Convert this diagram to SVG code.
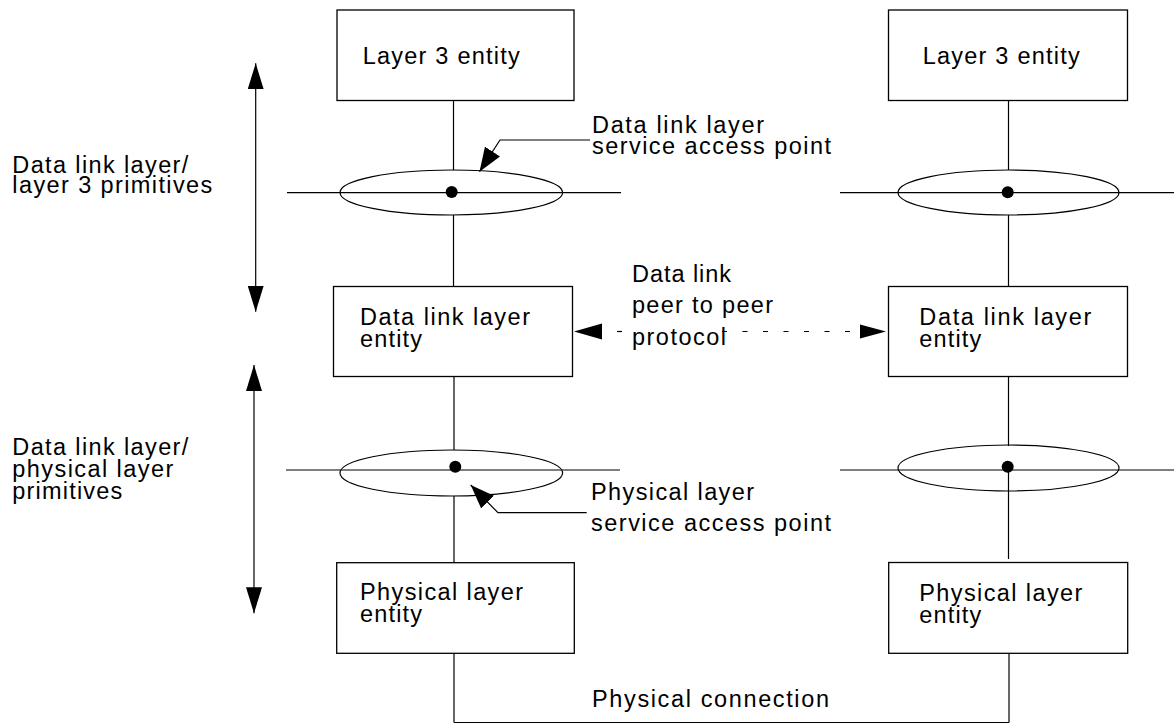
<svg xmlns="http://www.w3.org/2000/svg" width="1174" height="724" viewBox="0 0 1174 724">
<style>
.box{fill:#fff;stroke:#000;stroke-width:1.3}
.ln{fill:none;stroke:#000;stroke-width:1.2}
.ell{fill:none;stroke:#000;stroke-width:1.2}
.dash{fill:none;stroke:#000;stroke-width:1.2;stroke-dasharray:5 15.5}
text{font-family:"Liberation Sans",Arial,Helvetica,sans-serif;font-size:23.5px;fill:#000}
</style>
<defs>
<marker id="ah" viewBox="0 0 26 16" refX="26" refY="8" markerWidth="26" markerHeight="16" markerUnits="userSpaceOnUse" orient="auto-start-reverse">
<path d="M0,0 L26,8 L0,16 z" fill="#000"/>
</marker>
<marker id="ahs" viewBox="0 0 24 18" refX="24" refY="9" markerWidth="24" markerHeight="18" markerUnits="userSpaceOnUse" orient="auto">
<path d="M0,0 L24,9 L0,18 z" fill="#000"/>
</marker>
</defs>
<rect width="1174" height="724" fill="#fff"/>

<g id="connectors">
<line class="ln" x1="453.5" y1="100" x2="453.5" y2="170"/>
<line class="ln" x1="453.5" y1="215" x2="453.5" y2="287"/>
<line class="ln" x1="454" y1="377" x2="454" y2="450"/>
<line class="ln" x1="454" y1="496" x2="454" y2="563"/>
<line class="ln" x1="454" y1="653" x2="454" y2="722.5"/>
<line class="ln" x1="1008.5" y1="100" x2="1008.5" y2="170"/>
<line class="ln" x1="1008.5" y1="215" x2="1008.5" y2="286"/>
<line class="ln" x1="1008.5" y1="377" x2="1008.5" y2="446"/>
<line class="ln" x1="1008.5" y1="467" x2="1008.5" y2="559"/>
<line class="ln" x1="1009" y1="653" x2="1009" y2="722.5"/>
<line class="ln" x1="454" y1="722.5" x2="1009" y2="722.5"/>
<line class="ln" x1="287" y1="192.7" x2="621" y2="192.7"/>
<line class="ln" x1="840" y1="192.7" x2="1174" y2="192.7"/>
<line class="ln" x1="286" y1="470" x2="620" y2="470"/>
<line class="ln" x1="840" y1="470" x2="1174" y2="470"/>
<line class="ln" x1="255.7" y1="63.3" x2="255.7" y2="311.7" marker-start="url(#ah)" marker-end="url(#ah)"/>
<line class="ln" x1="254" y1="365" x2="254" y2="613.3" marker-start="url(#ah)" marker-end="url(#ah)"/>
<path d="M574,331.5 L602,323.5 L602,339.5 z" fill="#000"/>
<path d="M886,331.5 L860,324.5 L860,338.5 z" fill="#000"/>
<line class="dash" x1="602" y1="331.5" x2="632" y2="331.5" stroke-dashoffset="5.5"/>
<line class="dash" x1="720" y1="331.5" x2="860" y2="331.5" stroke-dashoffset="18.5"/>
<path class="ln" d="M590,140 H500 L479.5,171.7" marker-end="url(#ahs)"/>
<path class="ln" d="M586.7,512.7 H498 L470.7,485" marker-end="url(#ahs)"/>
</g>

<g id="sap-dl-left">
<ellipse class="ell" cx="451.3" cy="192.5" rx="111.3" ry="22.5"/>
<circle cx="451.7" cy="192" r="6"/>
</g>
<g id="sap-dl-right">
<ellipse class="ell" cx="1008.5" cy="192.5" rx="110.5" ry="22.5"/>
<circle cx="1007.7" cy="192.3" r="6"/>
</g>
<g id="sap-ph-left">
<ellipse class="ell" cx="451.3" cy="473" rx="111.3" ry="23"/>
<circle cx="455.3" cy="466.7" r="6"/>
</g>
<g id="sap-ph-right">
<ellipse class="ell" cx="1008.5" cy="468" rx="110.5" ry="23"/>
<circle cx="1007.7" cy="466.7" r="6"/>
</g>

<g id="l3-left">
<rect class="box" x="337" y="10" width="237" height="90.5"/>
<text x="362.7" y="64" textLength="157" lengthAdjust="spacing">Layer 3 entity</text>
</g>
<g id="l3-right">
<rect class="box" x="888.5" y="10" width="239" height="90.5"/>
<text x="922.7" y="64" textLength="157" lengthAdjust="spacing">Layer 3 entity</text>
</g>
<g id="dl-left">
<rect class="box" x="333.5" y="286.5" width="239" height="90"/>
<text x="360" y="324.5" textLength="170" lengthAdjust="spacing">Data link layer</text>
<text x="360" y="346.5" textLength="62" lengthAdjust="spacing">entity</text>
</g>
<g id="dl-right">
<rect class="box" x="888.5" y="286.5" width="239" height="90"/>
<text x="919.3" y="324.5" textLength="172" lengthAdjust="spacing">Data link layer</text>
<text x="919.3" y="346.5" textLength="62" lengthAdjust="spacing">entity</text>
</g>
<g id="ph-left">
<rect class="box" x="336.7" y="562.7" width="237.6" height="90.6"/>
<text x="360" y="600" textLength="163" lengthAdjust="spacing">Physical layer</text>
<text x="360" y="622" textLength="62" lengthAdjust="spacing">entity</text>
</g>
<g id="ph-right">
<rect class="box" x="888.7" y="562.5" width="239" height="90.8"/>
<text x="919.3" y="600.5" textLength="163" lengthAdjust="spacing">Physical layer</text>
<text x="919.3" y="622.5" textLength="62" lengthAdjust="spacing">entity</text>
</g>

<g id="labels">
<text x="592" y="133" textLength="172" lengthAdjust="spacing">Data link layer</text>
<text x="592" y="154" textLength="239" lengthAdjust="spacing">service access point</text>
<text x="632" y="282" textLength="99" lengthAdjust="spacing">Data link</text>
<text x="632" y="313" textLength="141" lengthAdjust="spacing">peer to peer</text>
<text x="632" y="345" textLength="94" lengthAdjust="spacing">protocol</text>
<text x="591" y="500" textLength="163" lengthAdjust="spacing">Physical layer</text>
<text x="591" y="531" textLength="240" lengthAdjust="spacing">service access point</text>
<text x="592" y="706.7" textLength="237" lengthAdjust="spacing">Physical connection</text>
<text x="12.3" y="173" textLength="176" lengthAdjust="spacing">Data link layer/</text>
<text x="12.3" y="193" textLength="200" lengthAdjust="spacing">layer 3 primitives</text>
<text x="12.3" y="455" textLength="176" lengthAdjust="spacing">Data link layer/</text>
<text x="12.3" y="477" textLength="161" lengthAdjust="spacing">physical layer</text>
<text x="12.3" y="499" textLength="110" lengthAdjust="spacing">primitives</text>
</g>
</svg>
